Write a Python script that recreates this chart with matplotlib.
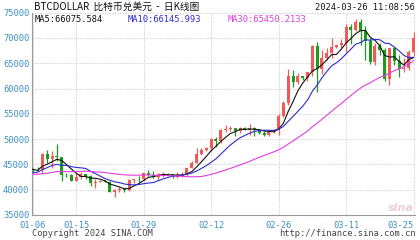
import matplotlib
matplotlib.use("Agg")
import matplotlib.pyplot as plt
import numpy as np

# ---- data (daily candles 01-06 .. 03-25 as drawn) ----
opens = [44180, 43970, 43930, 46970, 46130, 46630, 46370, 42850, 42840, 41800,
         42510, 43150, 42740, 41260, 41620, 41660, 41550, 39510, 39850, 40090,
         39930, 41820, 42120, 42030, 43300, 42950, 42580, 43080, 43200, 43010,
         42580, 42660, 43090, 44340, 45290, 47150, 47770, 48290, 49960, 49700,
         51810, 51940, 52160, 51660, 52120, 51780, 52280, 51840, 51300, 50730,
         51570, 51730, 54490, 57080, 62500, 61200, 62440, 62030, 63170, 68330,
         63800, 66100, 66930, 68300, 68500, 69020, 72120, 71480, 73080, 71400,
         69400, 65300, 68390, 67610, 61930, 67910, 65490, 63780, 64060, 67230]
highs = [44230, 44500, 47200, 47890, 47690, 48970, 46500, 43250, 43060, 43330,
         43570, 43200, 42930, 42130, 41870, 41870, 41650, 40130, 40540, 40260,
         42200, 42200, 42800, 43300, 43850, 43750, 43250, 43480, 43380, 43100,
         43500, 43400, 44370, 45600, 48150, 48170, 48530, 50280, 50360, 52040,
         52820, 52570, 52180, 52350, 52480, 52950, 52380, 52000, 51540, 51690,
         51950, 54900, 57500, 63900, 63680, 63100, 62430, 63200, 68500, 69170,
         67600, 67980, 69960, 68600, 69870, 72800, 72820, 73640, 73750, 72360,
         70040, 68900, 68900, 68100, 68100, 68200, 66650, 65950, 67600, 71150]
lows = [43570, 43610, 43230, 45250, 44350, 45670, 41770, 42440, 41720, 41720,
        42070, 42200, 40680, 40290, 41500, 41450, 39450, 38550, 39500, 39500,
        39820, 41400, 41620, 41810, 42700, 42300, 41880, 42600, 42900, 42250,
        42260, 42570, 42790, 44340, 45250, 46900, 47730, 47710, 48400, 49300,
        51330, 51600, 50640, 51200, 51710, 50800, 50620, 50950, 50540, 50600,
        51300, 50900, 54450, 56700, 60360, 60800, 61700, 61400, 62400, 59220,
        62850, 65600, 66110, 67980, 68100, 67190, 68740, 71380, 68560, 65630,
        64870, 64570, 66600, 61540, 60780, 64600, 62300, 63250, 63600, 66400]
closes = [43970, 43930, 46970, 46130, 46630, 46370, 42850, 42840, 41800, 42510,
          43150, 42740, 41260, 41620, 41660, 41550, 39510, 39850, 40090, 39930,
          41820, 42120, 42030, 43300, 42950, 42580, 43080, 43200, 43010, 42580,
          42660, 43090, 44340, 45290, 47150, 47770, 48290, 49960, 49700, 51810,
          51940, 52160, 51660, 52120, 51780, 52280, 51840, 51300, 50730, 51570,
          51730, 54490, 57080, 62500, 61200, 62440, 62030, 63170, 68330, 63800,
          66100, 66930, 68300, 68500, 69020, 72120, 71480, 73080, 71400, 69400,
          65300, 68390, 67610, 61930, 67910, 65490, 63780, 64060, 67230, 69950]
# closes before the first visible candle (for moving averages)
prior_closes = [43290, 44170, 43720, 43790, 41240, 41450, 42890, 43020, 41930, 42240,
                41360, 42660, 42270, 43650, 43860, 43990, 43740, 43010, 43610, 42520,
                43440, 42580, 42070, 42140, 42270, 44180, 44940, 42850, 44180, 44160]

tick_pos = [0, 9, 23, 37, 51, 65, 79]
tick_labels = ["01-06", "01-15", "01-29", "02-12", "02-26", "03-11", "03-25"]
y_ticks = [35000, 40000, 45000, 50000, 55000, 60000, 65000, 70000, 75000]

title_text = "BTCDOLLAR  比特币兑美元  -  日K线图"
stamp_text = "2024-03-26 11:08:56"
ma_labels = ["MA5:66075.584", "MA10:66145.993", "MA30:65450.2133"]

# ---- figure ----
fig = plt.figure(figsize=(4.2, 2.4), dpi=100)
ax = fig.add_axes([32/420, 1 - 215/240, 383/420, (215 - 12.6)/240])

UP = "#f25a5a"
DOWN = "#1f9a1f"
x = np.arange(len(closes))
o = np.array(opens); h = np.array(highs); l = np.array(lows); c = np.array(closes)
up = c >= o
colors = np.where(up, UP, DOWN)
ax.vlines(x, l, h, colors=colors, linewidth=0.9, zorder=3)
body_bottom = np.minimum(o, c)
body_h = np.maximum(np.abs(c - o), 60)
ax.bar(x, body_h, bottom=body_bottom, width=0.62, color=colors, linewidth=0, zorder=4)

allc = np.array(prior_closes + closes, dtype=float)
def ma(n):
    s = np.convolve(allc, np.ones(n) / n, mode="valid")
    return s[-len(closes):]
ax.plot(x, ma(5), color="#111111", lw=0.8, zorder=5)
ax.plot(x, ma(10), color="#2b2bd0", lw=0.8, zorder=5)
ax.plot(x, ma(30), color="#e23ce2", lw=0.8, zorder=5)

ax.set_xlim(-0.15, 79.3)
ax.set_ylim(35000, 75000)
ax.set_yticks(y_ticks)
ax.set_xticks(tick_pos)
ax.set_xticklabels(tick_labels)
ax.set_yticklabels([str(v) for v in y_ticks])
ax.tick_params(length=0, labelsize=6.3, labelcolor="#3d8fc4")
ax.tick_params(axis="x", pad=4.5)
ax.tick_params(axis="y", pad=2)
for lab in ax.get_xticklabels() + ax.get_yticklabels():
    lab.set_family("DejaVu Sans Mono")
ax.get_xticklabels()[-1].set_horizontalalignment("right")
ax.get_xticklabels()[-1].set_x(79.3)
ax.grid(True, color="#c8c8c8", linestyle=(0, (1.5, 1.5)), linewidth=0.6)
for s in ["top", "right"]:
    ax.spines[s].set_visible(False)
for s in ["left", "bottom"]:
    ax.spines[s].set_color("#999999")
    ax.spines[s].set_linewidth(0.8)

fig.text(34/420, 1 - 7/240, title_text, fontsize=7, va="center", ha="left",
         family=["Noto Sans CJK SC", "DejaVu Sans"], color="#111111")
fig.text(415/420, 1 - 7/240, stamp_text, fontsize=6.3, va="center", ha="right",
         family="DejaVu Sans Mono", color="#111111")
fig.text(35/420, 1 - 19/240, ma_labels[0], fontsize=6.3, va="center", ha="left",
         family="DejaVu Sans Mono", color="#111111")
fig.text(128/420, 1 - 19/240, ma_labels[1], fontsize=6.3, va="center", ha="left",
         family="DejaVu Sans Mono", color="#2b2bd0")
fig.text(228/420, 1 - 19/240, ma_labels[2], fontsize=6.3, va="center", ha="left",
         family="DejaVu Sans Mono", color="#e23ce2")
fig.text(32/420, 1 - 234/240, "Copyright 2024 SINA.COM", fontsize=6.3, va="center",
         ha="left", family="DejaVu Sans Mono", color="#444444")
fig.text(416/420, 1 - 234/240, "http://finance.sina.com.cn", fontsize=6.3, va="center",
         ha="right", family="DejaVu Sans Mono", color="#444444")
fig.text(414/420, 1 - 208/240, "sina", fontsize=8, va="center", ha="right",
         style="italic", weight="bold", color="#ecccd0", family="DejaVu Sans")

fig.savefig("out.png", dpi=100)
